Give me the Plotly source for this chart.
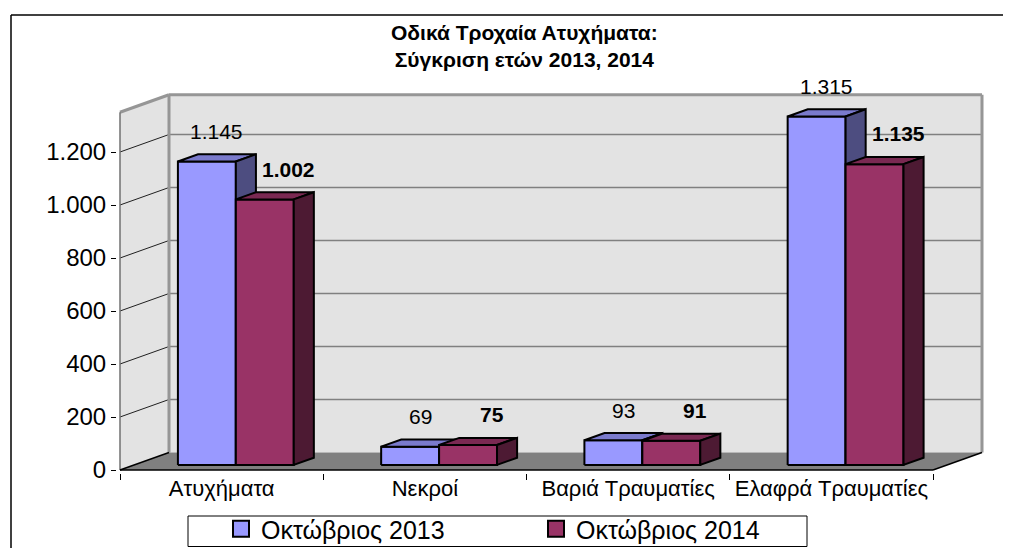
import plotly.graph_objects as go

# ---------------- data ----------------
categories = ["Ατυχήματα", "Νεκροί", "Βαριά Τραυματίες", "Ελαφρά Τραυματίες"]
series_names = ["Οκτώβριος 2013", "Οκτώβριος 2014"]
values_2013 = [1145, 69, 93, 1315]
values_2014 = [1002, 75, 91, 1135]
labels_2013 = ["1.145", "69", "93", "1.315"]
labels_2014 = ["1.002", "75", "91", "1.135"]
y_tick_values = [0, 200, 400, 600, 800, 1000, 1200]
y_tick_labels = ["0", "200", "400", "600", "800", "1.000", "1.200"]
title_lines = ["Οδικά Τροχαία Ατυχήματα:", "Σύγκριση ετών 2013, 2014"]

# ---------------- geometry / style ----------------
OFF = 8                  # page body margin
W, H = 1011 - 2 * OFF, 556 - 2 * OFF
PX_CAT = 203.25          # pixels per category slot
PX_VAL = 0.265           # pixels per value unit
L, R, T, B = 117, 988, 92, 473     # plot area, page pixels
FRONT_X, FRONT_Y = 120, 470
x_range = [-0.5 - (FRONT_X - L) / PX_CAT, -0.5 + (R - FRONT_X) / PX_CAT]
y_range = [-(B - FRONT_Y) / PX_VAL, (FRONT_Y - T) / PX_VAL]
DXC = 49 / PX_CAT        # depth offset in category units
DYV = 17.5 / PX_VAL      # depth offset in value units
WALL_TOP = 1350
ZB0, ZB1 = 0.29, 0.70    # bar depth (front/back planes)
BAR_W = 0.285
FONT = "Liberation Sans, Arial, sans-serif"

fronts = ["#9999FF", "#993366"]
tops = ["#7A7ACC", "#7A2952"]
sides = ["#4D4D80", "#4D1A33"]

n = len(categories)
XL, XR = -0.5, n - 0.5


def P(xc, v, z):
    return xc + z * DXC, v + z * DYV


fig = go.Figure()


def poly(points, fill, lw=0, lc="black"):
    pts = [P(*p) for p in points]
    pts.append(pts[0])
    fig.add_trace(go.Scatter(
        x=[p[0] for p in pts], y=[p[1] for p in pts], mode="lines",
        fill="toself", fillcolor=fill,
        line=dict(color=lc, width=lw) if lw else dict(width=0, color=fill),
        hoverinfo="skip", showlegend=False))


def segs(seglist, color, width):
    xs, ys = [], []
    for a, b in seglist:
        pa, pb = P(*a), P(*b)
        xs += [pa[0], pb[0], None]
        ys += [pa[1], pb[1], None]
    fig.add_trace(go.Scatter(x=xs, y=ys, mode="lines",
                             line=dict(color=color, width=width),
                             hoverinfo="skip", showlegend=False))


# back wall
poly([(XL, 0, 1), (XR, 0, 1), (XR, WALL_TOP, 1), (XL, WALL_TOP, 1)], "#E3E3E3")
# left wall
poly([(XL, 0, 0), (XL, 0, 1), (XL, WALL_TOP, 1), (XL, WALL_TOP, 0)], "#E3E3E3")
# gridlines
grid = [v for v in y_tick_values if v > 0]
segs([((XL, v, 1), (XR, v, 1)) for v in grid], "#808080", 1.5)
segs([((XL, v, 0), (XL, v, 1)) for v in grid], "#202020", 1)
# wall borders
segs([((XL, 0, 1), (XL, WALL_TOP, 1)), ((XL, WALL_TOP, 1), (XR, WALL_TOP, 1)),
      ((XR, WALL_TOP, 1), (XR, 0, 1)), ((XL, WALL_TOP, 0), (XL, WALL_TOP, 1))],
     "#969696", 3)
segs([((XL, 0, 0), (XL, WALL_TOP, 0))], "#707070", 1.5)
# floor
poly([(XL, 0, 0), (XR, 0, 0), (XR, 0, 1), (XL, 0, 1)], "#808080")
segs([((XL, 0, 0), (XR, 0, 0)), ((XL, 0, 0), (XL, 0, 1)), ((XR, 0, 0), (XR, 0, 1))],
     "black", 1.5)

# bars
series_vals = [values_2013, values_2014]
for i in range(n):
    for s in range(2):
        v = series_vals[s][i]
        xl = i - BAR_W + s * BAR_W
        xr = xl + BAR_W
        poly([(xl, 0, ZB0), (xr, 0, ZB0), (xr, v, ZB0), (xl, v, ZB0)], fronts[s], 2)
        poly([(xl, v, ZB0), (xr, v, ZB0), (xr, v, ZB1), (xl, v, ZB1)], tops[s], 2)
        poly([(xr, 0, ZB0), (xr, 0, ZB1), (xr, v, ZB1), (xr, v, ZB0)], sides[s], 2)

pw, ph = R - L, B - T


def px_to_paper_x(px):
    return (px - L) / pw


def px_to_paper_y(py):
    return (B - py) / ph


# data labels
annotations = []
for s, (vals, labs) in enumerate([(values_2013, labels_2013), (values_2014, labels_2014)]):
    for i in range(n):
        xl = i - BAR_W + s * BAR_W
        cx, cy = P(xl + BAR_W / 2, vals[i], (ZB0 + ZB1) / 2)
        _, ty = P(0, vals[i], ZB1)
        annotations.append(dict(
            x=cx, y=ty, xref="x", yref="y", text=f"<b>{labs[i]}</b>" if s else labs[i],
            showarrow=False, yanchor="middle", xanchor="center",
            yshift=23, xshift=14 if s else 0,
            font=dict(family=FONT, size=21, color="black")))

# title
annotations.append(dict(
    x=px_to_paper_x(524), y=px_to_paper_y(19), xref="paper", yref="paper",
    xanchor="center", yanchor="top", showarrow=False, align="center",
    text="<b>" + title_lines[0] + "<br>" + title_lines[1] + "</b>",
    font=dict(family=FONT, size=21, color="black")))

# legend entries
for s in range(2):
    fig.add_trace(go.Scatter(
        x=[None], y=[None], mode="markers", name=series_names[s],
        marker=dict(symbol="square", size=16, color=fronts[s],
                    line=dict(color="black", width=2))))

shapes = [
    # outer chart-area frame (only top and left edges fall inside the picture)
    dict(type="line", xref="paper", yref="paper",
         x0=px_to_paper_x(11), x1=px_to_paper_x(1011),
         y0=px_to_paper_y(15), y1=px_to_paper_y(15),
         line=dict(color="black", width=1.5)),
    dict(type="line", xref="paper", yref="paper",
         x0=px_to_paper_x(11), x1=px_to_paper_x(11),
         y0=px_to_paper_y(15), y1=px_to_paper_y(556),
         line=dict(color="black", width=1.5)),
    # legend box
    dict(type="rect", xref="paper", yref="paper",
         x0=px_to_paper_x(188), x1=px_to_paper_x(807),
         y0=px_to_paper_y(546.5), y1=px_to_paper_y(516),
         line=dict(color="black", width=1), fillcolor="white", layer="below"),
]

fig.update_layout(
    width=W, height=H, autosize=False,
    margin=dict(l=L - OFF, r=W - (R - OFF), t=T - OFF, b=H - (B - OFF), autoexpand=False),
    paper_bgcolor="white", plot_bgcolor="rgba(0,0,0,0)",
    font=dict(family=FONT, color="black"),
    xaxis=dict(range=x_range, showgrid=False, zeroline=False, showline=False,
               tickmode="array", tickvals=list(range(n)), ticktext=categories,
               ticks="", tickfont=dict(size=22, family=FONT, color="black"),
               minor=dict(tickmode="array", tickvals=[k - 0.5 for k in range(n + 1)],
                          ticks="outside", ticklen=6, tickcolor="black", tickwidth=1,
                          showgrid=False),
               fixedrange=True),
    yaxis=dict(range=y_range, showgrid=False, zeroline=False, showline=False,
               tickmode="array", tickvals=y_tick_values, ticktext=y_tick_labels,
               ticks="outside", ticklen=5, tickcolor="black", tickwidth=1,
               tickfont=dict(size=24, family=FONT, color="black"), fixedrange=True),
    showlegend=True,
    legend=dict(orientation="h", x=px_to_paper_x(221), xanchor="left",
                y=px_to_paper_y(506), yanchor="top",
                font=dict(size=25, family=FONT, color="black"),
                bgcolor="rgba(0,0,0,0)", borderwidth=0,
                entrywidth=270, entrywidthmode="pixels", itemwidth=30),
    annotations=annotations,
    shapes=shapes,
)

fig.write_html("out.html")
